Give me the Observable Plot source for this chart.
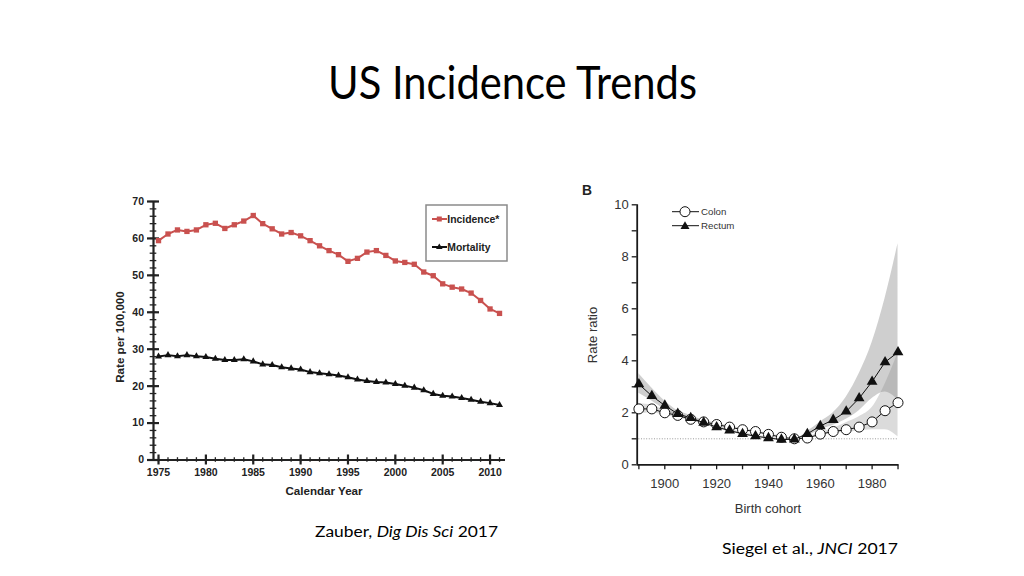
<!DOCTYPE html>
<html>
<head>
<meta charset="utf-8">
<script src="https://cdn.jsdelivr.net/npm/d3@7"></script>
<script src="https://cdn.jsdelivr.net/npm/@observablehq/plot@0.6"></script>
<style>
  html, body { margin: 0; padding: 0; background: #fff; }
  #slide { position: relative; width: 1024px; height: 576px; overflow: hidden; background: #fff; }
  #slide svg.plot { position: absolute; }
  #overlay { position: absolute; left: 0; top: 0; pointer-events: none; }
</style>
</head>
<body>
<div id="slide"></div>
<script>
// ---------- Left chart data (Zauber, Dig Dis Sci 2017) ----------
const years = [1975,1976,1977,1978,1979,1980,1981,1982,1983,1984,1985,1986,1987,1988,1989,1990,1991,1992,1993,1994,1995,1996,1997,1998,1999,2000,2001,2002,2003,2004,2005,2006,2007,2008,2009,2010,2011];
const incidence = [59.4,61.2,62.3,61.9,62.3,63.7,64.1,62.7,63.7,64.7,66.2,64.0,62.6,61.2,61.6,60.7,59.4,58.0,56.7,55.6,53.8,54.6,56.3,56.7,55.4,53.9,53.5,53.0,50.9,49.9,47.7,46.8,46.3,45.2,43.2,40.9,39.7];
const mortality = [28.0,28.4,28.1,28.4,28.1,27.9,27.4,27.1,27.1,27.3,26.7,25.9,25.7,25.1,24.8,24.5,23.8,23.5,23.2,22.9,22.4,21.8,21.4,21.1,21.0,20.6,20.1,19.6,18.9,17.9,17.4,17.2,16.8,16.3,15.8,15.4,14.9];
const leftYMajor = [0,10,20,30,40,50,60,70];
const leftYMinor = [0,2,4,6,8,10,12,14,16,18,20,22,24,26,28,30,32,34,36,38,40,42,44,46,48,50,52,54,56,58,60,62,64,66,68,70];
const leftXMajor = [1975,1980,1985,1990,1995,2000,2005,2010];
const leftXMinor = years;
const leftXDomain = [1974.47, 2011.63];
const leftYDomain = [0, 70];

// ---------- Right chart data (Siegel et al., JNCI 2017) ----------
const cohorts = [1890,1895,1900,1905,1910,1915,1920,1925,1930,1935,1940,1945,1950,1955,1960,1965,1970,1975,1980,1985,1990];
const colon   = [2.15,2.15,2.00,1.90,1.75,1.65,1.55,1.45,1.35,1.28,1.17,1.06,1.00,1.03,1.18,1.28,1.35,1.45,1.65,2.08,2.39];
const colonLo = [1.95,2.00,1.90,1.82,1.68,1.58,1.49,1.40,1.31,1.24,1.13,1.03,1.00,1.00,1.12,1.20,1.25,1.30,1.35,1.35,1.08];
const colonHi = [2.35,2.30,2.10,1.98,1.82,1.72,1.61,1.50,1.40,1.32,1.21,1.09,1.00,1.06,1.25,1.40,1.62,1.85,2.20,3.10,4.30];
const rectum   = [3.10,2.65,2.28,1.96,1.80,1.62,1.45,1.32,1.19,1.10,1.03,0.97,0.98,1.19,1.49,1.73,2.05,2.56,3.20,3.95,4.33];
const rectumLo = [2.75,2.45,2.12,1.86,1.72,1.55,1.40,1.27,1.15,1.06,1.00,0.95,0.98,1.10,1.35,1.52,1.75,2.08,2.55,2.80,2.50];
const rectumHi = [3.50,2.95,2.45,2.08,1.90,1.70,1.52,1.38,1.24,1.14,1.07,1.00,0.98,1.28,1.65,2.00,2.60,3.50,4.70,6.40,8.50];
const rightYMajor = [0,2,4,6,8,10];
const rightYMinor = [0,1,2,3,4,5,6,7,8,9,10];
const rightXTicks = [1890,1900,1910,1920,1930,1940,1950,1960,1970,1980,1990];
const rightXLabels = [1900,1920,1940,1960,1980];
const rightXDomain = [1889.35, 1990.3];
const rightYDomain = [0, 10];
const referenceRatio = 1;

const red = "#c9514f";
const ink = "#222";

const leftRows = years.map((year, i) => ({year, incidence: incidence[i], mortality: mortality[i]}));
const rightRows = cohorts.map((cohort, i) => ({cohort, colon: colon[i], colonLo: colonLo[i], colonHi: colonHi[i], rectum: rectum[i], rectumLo: rectumLo[i], rectumHi: rectumHi[i]}));

const slide = document.getElementById("slide");

// ---------- Left plot ----------
const left = Plot.plot({
  width: 420, height: 315,
  marginLeft: 53, marginRight: 15, marginTop: 11, marginBottom: 45.5,
  x: {domain: leftXDomain, label: null},
  y: {domain: leftYDomain, label: null},
  style: {fontFamily: "'Liberation Sans', Arial, sans-serif", fontSize: "10.5px", fontWeight: "bold", color: ink, background: "transparent", overflow: "visible"},
  marks: [
    Plot.axisY({ticks: leftYMinor, tickSize: 6.6, dx: 3.3, fill: "none", strokeWidth: 1.3}),
    Plot.axisY({ticks: leftYMajor, tickSize: 12, dx: 6, fill: "none", strokeWidth: 2.2}),
    Plot.axisY({ticks: leftYMajor, tickSize: 0, tickPadding: 9.5, tickFormat: "d", fontWeight: "bold", fontSize: 10.5}),
    Plot.axisX({ticks: leftXMinor, tickSize: 4.6, dy: -2.3, fill: "none", strokeWidth: 1.3}),
    Plot.axisX({ticks: leftXMajor, tickSize: 10, dy: -5, fill: "none", strokeWidth: 2.2}),
    Plot.axisX({ticks: leftXMajor, tickSize: 0, tickPadding: 9, tickFormat: "d", fontWeight: "bold", fontSize: 10.5}),
    Plot.ruleX([leftXDomain[0]], {stroke: ink, strokeWidth: 2.2}),
    Plot.ruleY([leftYDomain[0]], {stroke: ink, strokeWidth: 2.2}),
    Plot.line(leftRows, {x: "year", y: "incidence", stroke: red, strokeWidth: 2}),
    Plot.dot(leftRows, {x: "year", y: "incidence", symbol: "square", fill: red, r: 3}),
    Plot.line(leftRows, {x: "year", y: "mortality", stroke: "#111", strokeWidth: 2}),
    Plot.dot(leftRows, {x: "year", y: "mortality", symbol: "triangle", fill: "#111", r: 2.6})
  ]
});
left.classList.add("plot");
left.style.left = "100px";
left.style.top = "190px";
slide.appendChild(left);

// ---------- Right plot ----------
const right = Plot.plot({
  width: 340, height: 350,
  marginLeft: 61.7, marginRight: 16.7, marginTop: 29.3, marginBottom: 60.7,
  x: {domain: rightXDomain, label: null},
  y: {domain: rightYDomain, label: null},
  style: {fontFamily: "'Liberation Sans', Arial, sans-serif", fontSize: "13px", color: "#333", background: "transparent", overflow: "visible"},
  marks: [
    Plot.areaY(rightRows, {x: "cohort", y1: "rectumLo", y2: "rectumHi", fill: "#888", fillOpacity: 0.4, curve: "monotone-x"}),
    Plot.areaY(rightRows, {x: "cohort", y1: "colonLo", y2: "colonHi", fill: "#888", fillOpacity: 0.3, curve: "monotone-x"}),
    Plot.ruleY([referenceRatio], {x1: cohorts[0], x2: cohorts[cohorts.length - 1], stroke: "#999", strokeWidth: 1, strokeDasharray: "1,1.6"}),
    Plot.axisY({ticks: rightYMinor, tickSize: 5, fill: "none", stroke: "#1a1a1a", strokeWidth: 1.3}),
    Plot.axisY({ticks: rightYMajor, tickSize: 0, tickPadding: 8.4, tickFormat: "d", fill: "#333"}),
    Plot.axisX({ticks: rightXTicks, tickSize: 5, fill: "none", stroke: "#1a1a1a", strokeWidth: 1.3}),
    Plot.axisX({ticks: rightXLabels, tickSize: 0, tickPadding: 14, tickFormat: "d", fill: "#333"}),
    Plot.ruleX([rightXDomain[0]], {stroke: "#1a1a1a", strokeWidth: 1.8}),
    Plot.ruleY([rightYDomain[0]], {stroke: "#1a1a1a", strokeWidth: 1.8}),
    Plot.line(rightRows, {x: "cohort", y: "colon", stroke: "#111", strokeWidth: 1}),
    Plot.dot(rightRows, {x: "cohort", y: "colon", fill: "white", stroke: "#111", strokeWidth: 1, r: 5}),
    Plot.line(rightRows, {x: "cohort", y: "rectum", stroke: "#111", strokeWidth: 1}),
    Plot.dot(rightRows, {x: "cohort", y: "rectum", symbol: "triangle", fill: "#111", r: 4})
  ]
});
right.classList.add("plot");
right.style.left = "575px";
right.style.top = "175px";
slide.appendChild(right);

// ---------- Overlay: title, captions, axis titles, legends ----------
const NS = "http://www.w3.org/2000/svg";
const overlay = document.createElementNS(NS, "svg");
overlay.setAttribute("id", "overlay");
overlay.setAttribute("width", 1024);
overlay.setAttribute("height", 576);
overlay.innerHTML = `
  <text x="512.5" y="99" text-anchor="middle" font-family="Lato, 'Open Sans', sans-serif" font-size="46" fill="#000" textLength="369" lengthAdjust="spacingAndGlyphs">US Incidence Trends</text>

  <text x="315" y="537" font-family="Lato, 'Open Sans', sans-serif" font-size="15.5" fill="#000" textLength="183" lengthAdjust="spacingAndGlyphs">Zauber, <tspan font-style="italic">Dig Dis Sci</tspan> 2017</text>
  <text x="722" y="554" font-family="Lato, 'Open Sans', sans-serif" font-size="15.5" fill="#000" textLength="176" lengthAdjust="spacingAndGlyphs">Siegel et al., <tspan font-style="italic">JNCI</tspan> 2017</text>

  <g font-family="'Liberation Sans', Arial, sans-serif" font-weight="bold" fill="${ink}">
    <text transform="translate(124,337) rotate(-90)" text-anchor="middle" font-size="11.6">Rate per 100,000</text>
    <text x="324" y="495" text-anchor="middle" font-size="11.6">Calendar Year</text>
  </g>

  <g>
    <rect x="426" y="205" width="81" height="56" fill="#fff" stroke="#8a8a8a" stroke-width="1.5"/>
    <line x1="432" y1="219" x2="447" y2="219" stroke="${red}" stroke-width="2"/>
    <rect x="436.8" y="216.5" width="5" height="5" fill="${red}"/>
    <text x="447.3" y="222.6" font-family="'Liberation Sans', Arial, sans-serif" font-weight="bold" font-size="10.4" fill="${ink}">Incidence*</text>
    <line x1="432" y1="247" x2="447" y2="247" stroke="#111" stroke-width="2"/>
    <path d="M439.3,243.6 L442.6,249 L436,249 Z" fill="#111"/>
    <text x="447.3" y="250.6" font-family="'Liberation Sans', Arial, sans-serif" font-weight="bold" font-size="10.4" fill="${ink}">Mortality</text>
  </g>

  <text x="582" y="195" font-family="'Liberation Sans', Arial, sans-serif" font-weight="bold" font-size="13.8" fill="#222">B</text>
  <g font-family="'Liberation Sans', Arial, sans-serif" fill="#333">
    <text transform="translate(597,335) rotate(-90)" text-anchor="middle" font-size="13">Rate ratio</text>
    <text x="768" y="513" text-anchor="middle" font-size="13">Birth cohort</text>
  </g>

  <g font-family="'Liberation Sans', Arial, sans-serif" font-size="9.7" fill="#333">
    <line x1="672" y1="211.7" x2="699" y2="211.7" stroke="#111" stroke-width="1"/>
    <circle cx="685" cy="211.7" r="5" fill="#fff" stroke="#111" stroke-width="1"/>
    <text x="701" y="215">Colon</text>
    <line x1="672" y1="225.7" x2="699" y2="225.7" stroke="#111" stroke-width="1"/>
    <path d="M685,221.2 L689.5,229 L680.5,229 Z" fill="#111"/>
    <text x="701" y="229">Rectum</text>
  </g>
`;
slide.appendChild(overlay);
</script>
</body>
</html>
